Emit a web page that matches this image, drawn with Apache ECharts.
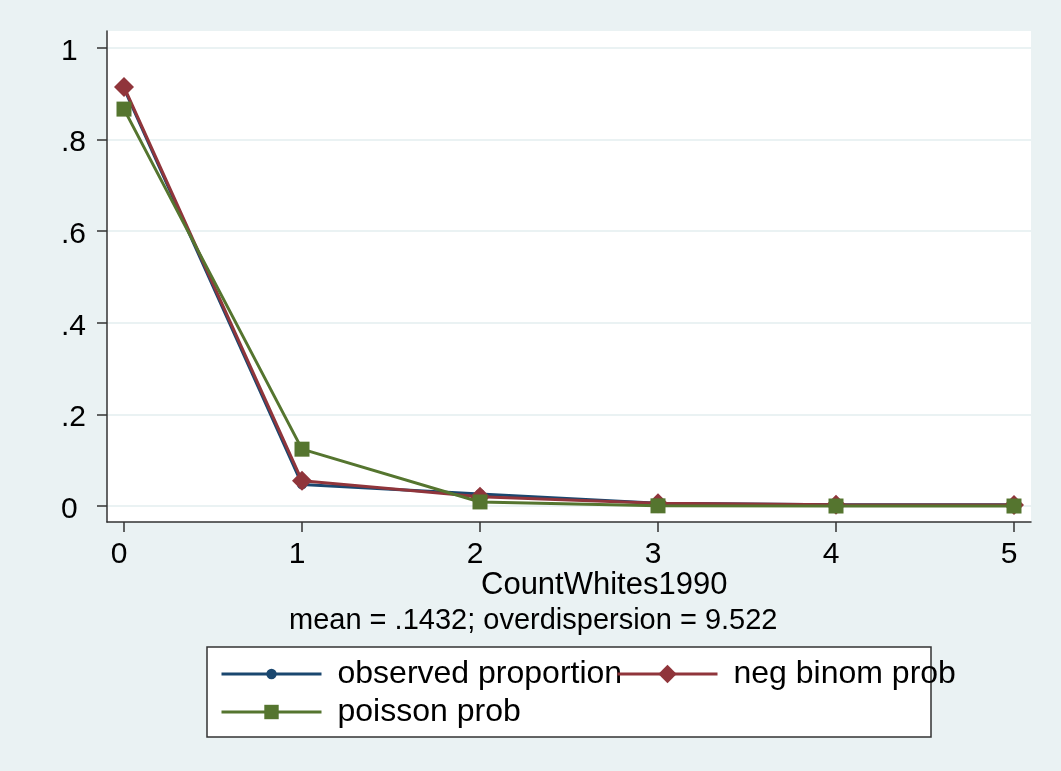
<!DOCTYPE html>
<html>
<head>
<meta charset="utf-8">
<script src="https://cdn.jsdelivr.net/npm/echarts@6/dist/echarts.min.js"></script>
<style>
  html, body { margin: 0; padding: 0; background: #EAF2F3; }
  #chart { width: 1061px; height: 771px; }
</style>
</head>
<body>
<div id="chart"></div>
<script>
// ---- data ----
const counts = [0, 1, 2, 3, 4, 5];
const observedProportion = [0.912, 0.047, 0.026, 0.006, 0.003, 0.003];
const negBinomProb = [0.915, 0.055, 0.020, 0.006, 0.003, 0.002];
const poissonProb = [0.8666, 0.1241, 0.0089, 0.0004, 0.0000, 0.0000];
const yTicks = [0, 0.2, 0.4, 0.6, 0.8, 1];
const yTickLabels = ['0', '.2', '.4', '.6', '.8', '1'];
const xTitle = 'CountWhites1990';
const noteText = 'mean = .1432; overdispersion = 9.522';

const FONT = '"Liberation Sans", Arial, sans-serif';
const NAVY = '#1A476F', MAROON = '#90353B', GREEN = '#55752F';

function pairs(vals) { return counts.map((c, i) => [c, vals[i]]); }

const legendText = { fontSize: 32, color: '#000', fontFamily: FONT, lineHeight: 30, padding: [0, 0, 0, 11] };

const chart = echarts.init(document.getElementById('chart'));
chart.setOption({
  backgroundColor: '#EAF2F3',
  animation: false,
  textStyle: { fontFamily: FONT },
  grid: {
    left: 107, right: 30, top: 31, bottom: 249,
    show: true, backgroundColor: '#ffffff', borderWidth: 0
  },
  xAxis: {
    type: 'value', min: -0.0955, max: 5.0955,
    axisLine: { show: true, onZero: false, lineStyle: { color: '#333', width: 1.5 } },
    axisTick: { show: true, length: 10, customValues: counts, lineStyle: { color: '#333', width: 1.5 } },
    axisLabel: {
      customValues: counts, fontSize: 30, color: '#000', fontFamily: FONT, margin: 18,
      padding: [0, 10, 0, 0],
      formatter: v => String(Math.round(v))
    },
    splitLine: { show: false }
  },
  yAxis: {
    type: 'value', min: -0.0349, max: 1.0371,
    axisLine: { show: true, onZero: false, lineStyle: { color: '#333', width: 1.5 } },
    axisTick: { show: true, length: 10, customValues: yTicks, lineStyle: { color: '#333', width: 1.5 } },
    axisLabel: {
      customValues: yTicks, fontSize: 30, color: '#000', fontFamily: FONT,
      align: 'left', margin: 46, verticalAlign: 'top', lineHeight: 7,
      formatter: v => { const i = yTicks.findIndex(t => Math.abs(t - v) < 1e-6); return i >= 0 ? yTickLabels[i] : ''; }
    },
    splitLine: { show: true, lineStyle: { color: '#EAF2F3', width: 2 } }
  },
  legend: [
    {
      data: ['observed proportion'], left: 220, top: 658, padding: 0,
      itemWidth: 100, itemHeight: 13, lineStyle: { width: 3 },
      textStyle: legendText
    },
    {
      data: ['poisson prob'], left: 220, top: 696, padding: 0,
      itemWidth: 100, itemHeight: 18, lineStyle: { width: 3 },
      textStyle: legendText
    },
    {
      data: ['neg binom prob'], left: 616, top: 658, padding: 0,
      itemWidth: 100, itemHeight: 23, lineStyle: { width: 3 },
      textStyle: legendText
    }
  ],
  graphic: [
    {
      type: 'rect', z: 0, silent: true,
      shape: { x: 207, y: 647, width: 724, height: 90 },
      style: { fill: '#ffffff', stroke: '#333', lineWidth: 1.5 }
    },
    {
      type: 'text', left: 481, top: 570, silent: true,
      style: { text: xTitle, font: '31px ' + FONT, fill: '#000' }
    },
    {
      type: 'text', left: 289, top: 606, silent: true,
      style: { text: noteText, font: '29px ' + FONT, fill: '#000' }
    }
  ],
  series: [
    {
      name: 'observed proportion', type: 'line', data: pairs(observedProportion),
      symbol: 'circle', symbolSize: 10, z: 2,
      lineStyle: { color: NAVY, width: 3 }, itemStyle: { color: NAVY }
    },
    {
      name: 'neg binom prob', type: 'line', data: pairs(negBinomProb),
      symbol: 'diamond', symbolSize: 20, z: 3,
      lineStyle: { color: MAROON, width: 3 }, itemStyle: { color: MAROON }
    },
    {
      name: 'poisson prob', type: 'line', data: pairs(poissonProb),
      symbol: 'rect', symbolSize: 15, z: 4,
      lineStyle: { color: GREEN, width: 3 }, itemStyle: { color: GREEN }
    }
  ]
});
</script>
</body>
</html>
